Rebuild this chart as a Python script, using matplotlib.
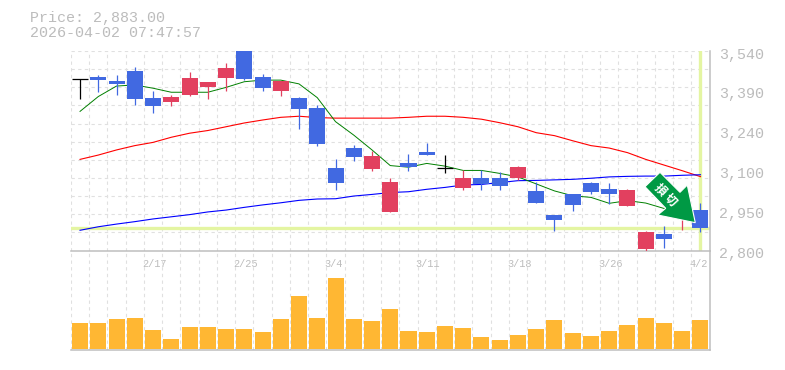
import numpy as np
import matplotlib
matplotlib.use("Agg")
import matplotlib.pyplot as plt
from matplotlib.patches import Polygon
from matplotlib.transforms import ScaledTranslation

plt.rcParams['font.family'] = ['Liberation Mono', 'Noto Sans CJK JP', 'DejaVu Sans']

opens  = [3435,3444,3429,3466,3366,3351,3377,3406,3440,3540,3444,3392,3366,3329,3106,3180,3102,2943,3125,3165,3106,3032,3069,3069,3069,3021,2932,3010,3050,3028,2965,2806,2861,2925,2950]
closes = [3435,3433,3418,3362,3336,3369,3440,3425,3477,3436,3403,3429,3325,3195,3050,3147,3151,3054,3110,3154,3106,3069,3047,3039,3110,2976,2913,2969,3017,3010,3024,2869,2843,2975,2883]
highs  = [3435,3451,3451,3481,3392,3377,3462,3425,3495,3540,3455,3429,3369,3340,3139,3191,3169,3069,3158,3199,3154,3099,3099,3091,3113,3054,2932,3010,3054,3050,3028,2872,2891,2975,2976]
lows   = [3362,3388,3377,3340,3310,3336,3373,3362,3392,3432,3392,3373,3251,3188,3024,3132,3095,2943,3095,3154,3088,3024,3024,3024,3062,2976,2872,2947,3010,2972,2965,2798,2809,2876,2869]
ma_green = [3316,3371,3410,3414,3402,3387,3387,3387,3405,3426,3432,3432,3418,3367,3278,3228,3173,3115,3109,3123,3113,3097,3097,3086,3073,3047,3021,3003,2997,2975,2985,2976,2956,2930,2919]
ma_red   = [3138,3154,3173,3189,3201,3220,3235,3245,3259,3273,3284,3294,3298,3293,3291,3291,3291,3291,3294,3298,3298,3294,3287,3274,3259,3237,3226,3207,3189,3180,3163,3138,3117,3096,3074]
ma_blue  = [2875,2888,2898,2907,2917,2925,2933,2943,2950,2960,2969,2977,2986,2991,2992,3002,3008,3015,3018,3027,3034,3043,3045,3052,3059,3060,3062,3064,3068,3073,3075,3076,3076,3079,3081]
volume = [26,26,30,31,19,10,22,22,20,20,17,30,53,31,71,30,28,40,18,17,23,21,12,9,14,20,29,16,13,18,24,31,26,18,29]
date_pos = [4,9,14,19,24,29,34]
date_labels = ['2/17','2/25','3/4','3/11','3/18','3/26','4/2']
price_ticks = [3540,3392,3244,3096,2948,2800]
price_labels = ['3,540','3,390','3,240','3,100','2,950','2,800']
last_price = 2883
title_lines = ['Price: 2,883.00','2026-04-02 07:47:57']
badge_text = '損 切'

W, H = 785, 370
GREY = '#bebebe'; TXT = '#bcbcbc'; GRID = '#e0e0e0'; YEL = '#e4f5a2'
UP = '#e2405f'; DOWN = '#4169e1'; ARROW = '#009944'

fig = plt.figure(figsize=(W/100, H/100), dpi=100, facecolor='white')
L, R, TOP, MID, BOT = 70.9, 709.6, 51, 250.5, 350
ax = fig.add_axes([L/W, 1-MID/H, (R-L)/W, (MID-TOP)/H])
axv = fig.add_axes([L/W, 1-BOT/H, (R-L)/W, (BOT-MID)/H], sharex=ax)
for a in (ax, axv):
    a.patch.set_alpha(0)
    a.set_xlim(-0.5, 34.5)
    for s in ('top', 'left'):
        a.spines[s].set_visible(False)
    for s in ('right', 'bottom'):
        a.spines[s].set_color(GREY)
        a.spines[s].set_linewidth(1.1)
    a.set_axisbelow(True)
ax.set_ylim(2800, 3540)
axv.set_ylim(-2/3, 98)
x = np.arange(len(opens))
grid_x = np.arange(-0.5, 34.5, 1)
dash = (0, (3, 3))
for a in (ax, axv):
    a.vlines(grid_x, 0, 1, transform=a.get_xaxis_transform(), color=GRID, lw=0.8, linestyles=dash, zorder=0)
ax.hlines(np.linspace(2800, 3540, 12)[1:], 0, 1, transform=ax.get_yaxis_transform(), color=GRID, lw=0.8, linestyles=dash, zorder=0)

ax.axhline(last_price, color=YEL, lw=2.4, zorder=1)
ax.axvline(x[-1], color=YEL, lw=2.4, zorder=1)

ax.plot(x, ma_red, color='#ff0000', lw=0.8, zorder=2)
ax.plot(x, ma_blue, color='#0000ff', lw=0.8, zorder=2)
ax.plot(x, ma_green, color='#008000', lw=0.7, zorder=2)

o, c = np.array(opens), np.array(closes)
colors = [UP if cl > op else (DOWN if cl < op else 'black') for op, cl in zip(o, c)]
ax.vlines(x, lows, highs, colors=colors, lw=0.9, zorder=3)
ax.bar(x, np.abs(c-o), bottom=np.minimum(o, c), width=0.877, color=colors, linewidth=0, zorder=3)
doji = o == c
ax.hlines(o[doji], x[doji]-0.44, x[doji]+0.44, colors='black', lw=0.9, zorder=3)

axv.bar(x, volume, width=0.877, color='#ffb733', linewidth=0, zorder=3)

ax.yaxis.tick_right()
ax.set_yticks(price_ticks, price_labels)
ax.tick_params(axis='y', length=0, pad=7, labelsize=10.8, labelcolor=TXT)
off = ScaledTranslation(0, -2/100, fig.dpi_scale_trans)
for t in ax.get_yticklabels():
    t.set_transform(t.get_transform() + off)
ax.set_xticks(date_pos, date_labels)
ax.tick_params(axis='x', length=0, pad=6, labelsize=7.4, labelcolor=TXT)
offx = ScaledTranslation(-11/100, 0, fig.dpi_scale_trans)
for t in ax.get_xticklabels():
    t.set_ha('left')
    t.set_transform(t.get_transform() + offx)
axv.tick_params(axis='both', length=0, labelbottom=False, labelleft=False)
axv.set_yticks([])

fig.text(30/W, 1-18/H, title_lines[0], color=TXT, fontsize=10.8, va='center', ha='left')
fig.text(30/W, 1-33/H, title_lines[1], color=TXT, fontsize=10.8, va='center', ha='left')

badge = [(645,186.7),(660,172.3),(680,192.3),(687.3,185),(695.3,222.7),(657.7,215),(665.7,208.3)]
badge_fig = [(px/W, 1-py/H) for px, py in badge]
fig.add_artist(Polygon(badge_fig, closed=True, transform=fig.transFigure, facecolor=ARROW,
                       edgecolor='white', lw=0.8, zorder=10))
fig.text(666/W, 1-194.5/H, badge_text, color='white', fontsize=8.5, fontweight='bold', rotation=-45,
         rotation_mode='anchor', ha='center', va='center', zorder=11,
         family=['Noto Sans CJK JP'])

fig.savefig('out.png', dpi=100)
